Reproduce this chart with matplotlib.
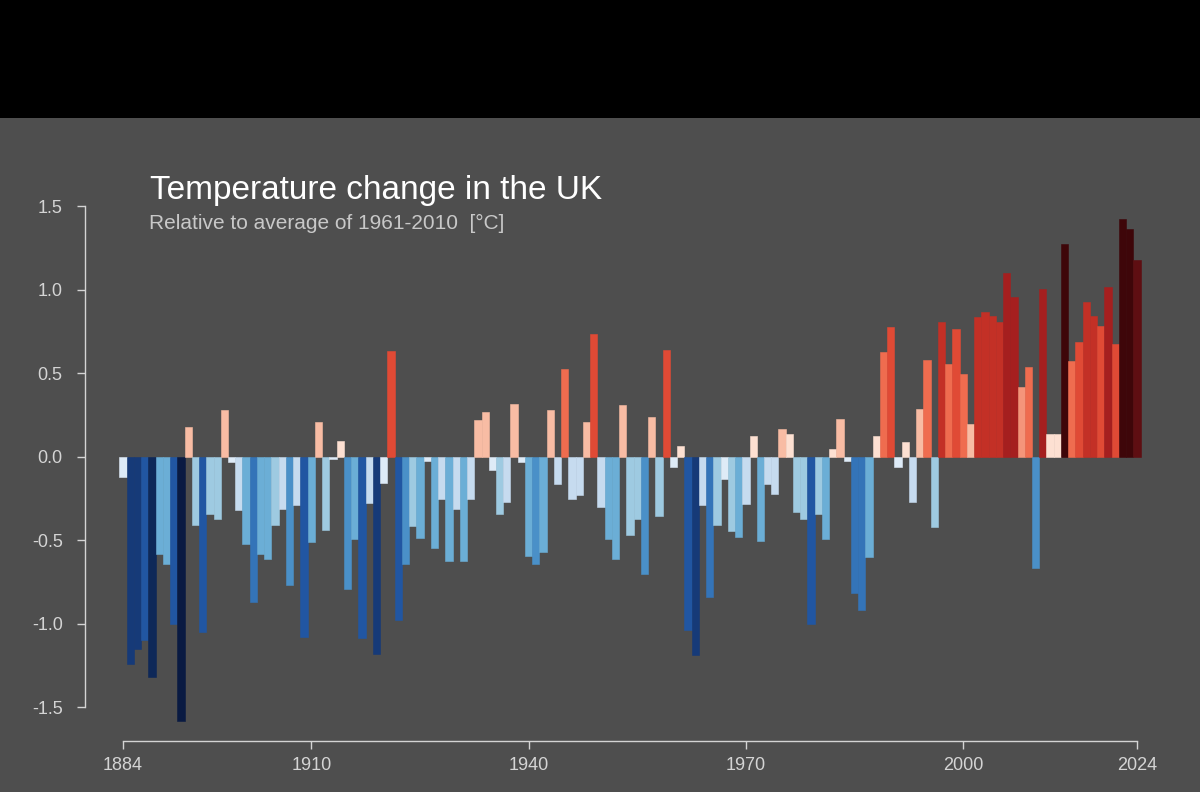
import numpy as np
import matplotlib
matplotlib.use("Agg")
import matplotlib.pyplot as plt
from matplotlib.colors import ListedColormap, BoundaryNorm
from matplotlib.patches import Rectangle

# UK annual temperature anomaly vs 1961-2010 mean
years = np.arange(1884, 2025)
anomaly = [
    -0.12, -1.24, -1.15, -1.10, -1.32, -0.58, -0.64, -1.00, -1.58, 0.18,     # 1884-1893
    -0.41, -1.05, -0.345, -0.375, 0.28, -0.03, -0.32, -0.52, -0.87, -0.58,   # 1894-1903
    -0.61, -0.41, -0.315, -0.77, -0.29, -1.08, -0.51, 0.205, -0.44, -0.014,  # 1904-1913
    0.094, -0.79, -0.495, -1.085, -0.275, -1.18, -0.156, 0.635, -0.976, -0.645,  # 1914-1923
    -0.415, -0.485, -0.024, -0.545, -0.255, -0.625, -0.315, -0.623, -0.253, 0.218,  # 1924-1933
    0.265, -0.082, -0.343, -0.273, 0.315, -0.034, -0.593, -0.643, -0.571, 0.277,  # 1934-1943
    -0.162, 0.525, -0.253, -0.232, 0.206, 0.737, -0.303, -0.493, -0.613, 0.307,  # 1944-1953
    -0.471, -0.375, -0.703, 0.238, -0.353, 0.637, -0.062, 0.065, -1.04, -1.19,  # 1954-1963
    -0.29, -0.84, -0.41, -0.134, -0.443, -0.483, -0.283, 0.126, -0.503, -0.164,  # 1964-1973
    -0.224, 0.168, 0.138, -0.333, -0.373, -1.00, -0.343, -0.493, 0.046, 0.228,  # 1974-1983
    -0.024, -0.814, -0.92, -0.60, 0.126, 0.625, 0.776, -0.064, 0.086, -0.273,  # 1984-1993
    0.285, 0.577, -0.423, 0.806, 0.555, 0.766, 0.495, 0.198, 0.834, 0.864,  # 1994-2003
    0.845, 0.806, 1.098, 0.954, 0.416, 0.535, -0.665, 1.004, 0.136, 0.136,  # 2004-2013
    1.275, 0.575, 0.685, 0.924, 0.844, 0.784, 1.016, 0.675, 1.425, 1.365,  # 2014-2023
    1.176,                                                                  # 2024
]
assert len(anomaly) == len(years)

y_ticks = [-1.5, -1.0, -0.5, 0.0, 0.5, 1.0, 1.5]
x_ticks = [1884, 1910, 1940, 1970, 2000, 2024]

# stripes-style binned palette
bin_edges = [-3, -1.44, -1.26, -1.12, -0.96, -0.8, -0.64, -0.48, -0.32, -0.16, 0,
             0.16, 0.32, 0.48, 0.63, 0.8, 0.94, 1.12, 1.26, 3]
bin_colors = ['#091a42', '#0e2858', '#163a78', '#2156a2', '#3474b8', '#4a90c8',
              '#6baed6', '#9ecae1', '#c6dbef', '#deebf7',
              '#fde0d2', '#f8bca4', '#f5957a', '#ef6c4f', '#e04a35', '#c33026',
              '#a51f1f', '#5e0e12', '#3e0609']
cmap = ListedColormap(bin_colors)
norm = BoundaryNorm(bin_edges, cmap.N)

BG = '#4e4e4e'
FG = '#d4d4d4'

fig = plt.figure(figsize=(12, 7.92), dpi=100, facecolor=BG)
plt.rcParams['font.family'] = ['Liberation Sans', 'DejaVu Sans']

# black band across the top
fig.patches.append(Rectangle((0, 1 - 118 / 792), 1, 118 / 792, transform=fig.transFigure,
                             facecolor='black', edgecolor='none', zorder=0))

ax = fig.add_axes([108.5 / 1200, (792 - 740.6) / 792, 1043 / 1200, 551.1 / 792])
ax.set_facecolor(BG)

bar_colors = cmap(norm(np.array(anomaly)))
ax.bar(years, anomaly, width=1.0, color=bar_colors, edgecolor=bar_colors, linewidth=0.4)

ax.set_xlim(1882, 2026)
ax.set_ylim(-1.7, 1.6)

for side in ['top', 'right']:
    ax.spines[side].set_visible(False)
ax.spines['left'].set_position(('outward', 17))
ax.spines['left'].set_bounds(-1.5, 1.5)
ax.spines['bottom'].set_bounds(1884, 2024)
for side in ['left', 'bottom']:
    ax.spines[side].set_color(FG)
    ax.spines[side].set_linewidth(1.0)

ax.set_yticks(y_ticks)
ax.set_yticklabels([f'{t:.1f}' for t in y_ticks])
ax.set_xticks(x_ticks)
ax.set_xticklabels([str(t) for t in x_ticks])
ax.tick_params(axis='both', colors=FG, labelcolor=FG, labelsize=13, length=6, width=1.0)
ax.tick_params(axis='y', pad=10)
ax.tick_params(axis='x', pad=6)

fig.text(150 / 1200, 1 - 199 / 792, 'Temperature change in the UK', color='white',
         fontsize=24, va='baseline', ha='left')
fig.text(149 / 1200, 1 - 229 / 792, 'Relative to average of 1961-2010  [°C]', color='#c8c8c8',
         fontsize=15, va='baseline', ha='left')

fig.savefig('out.png', dpi=100, facecolor=BG)
